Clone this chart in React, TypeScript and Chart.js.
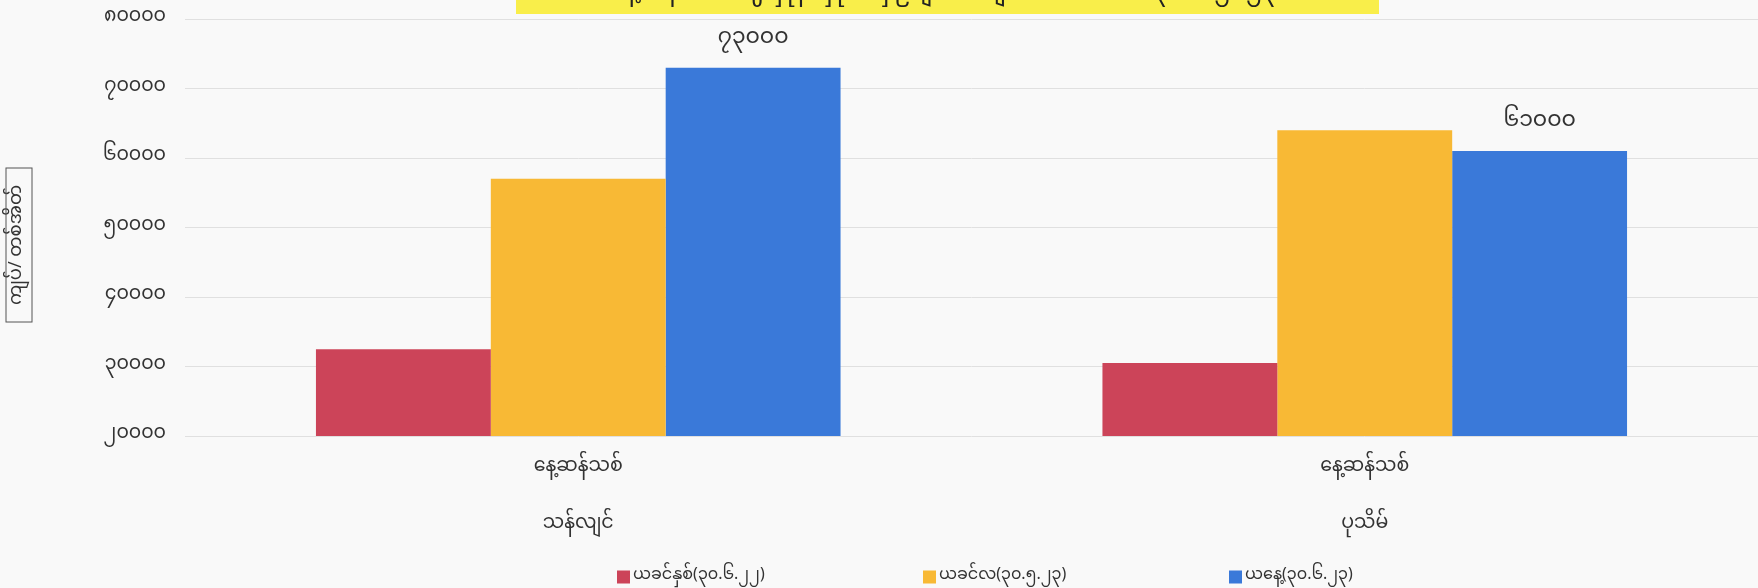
import React, { useEffect, useRef } from "react";
import { Chart, registerables } from "chart.js";

Chart.register(...registerables);

const categories = [
  ["နေ့ဆန်သစ်", "သန်လျင်"],
  ["နေ့ဆန်သစ်", "ပုသိမ်"],
];
const seriesNames = ["ယခင်နှစ်(၃၀.၆.၂၂)", "ယခင်လ(၃၀.၅.၂၃)", "ယနေ့(၃၀.၆.၂၃)"];
const lastYear = [32500, 30500];
const lastMonth = [57000, 64000];
const today = [73000, 61000];
const yMin = 20000;
const yMax = 80000;
const yStep = 10000;
const yAxisTitle = "ကျပ်/ တစ်အိတ်";
const chartTitle = "နေ့ဆန်သစ် ဈေးနှုန်း နှိုင်းယှဉ်ချက် (ကျပ်/ တစ်အိတ်) (၃၀.၆.၂၀၂၃)";

const colors = ["#CC4459", "#F8B935", "#3A79D9"];
const FONT = '"Noto Sans Myanmar", "Padauk", "Myanmar Text", "Noto Sans", sans-serif';
const myDigits = "၀၁၂၃၄၅၆၇၈၉";
const toMy = (v: number | string) =>
  String(v).replace(/[0-9]/g, (d) => myDigits[Number(d)]);

const decorPlugin = {
  id: "decor",
  beforeDraw(chart: any) {
    const { ctx, width, height } = chart;
    ctx.save();
    ctx.fillStyle = "#F9F9F9";
    ctx.fillRect(0, 0, width, height);
    ctx.restore();
  },
  afterDraw(chart: any) {
    const { ctx } = chart;
    ctx.save();
    // title band (cut off at top)
    ctx.fillStyle = "#F9EE4A";
    ctx.fillRect(516, 0, 863, 14);
    ctx.fillStyle = "#222";
    ctx.font = `24px ${FONT}`;
    ctx.textAlign = "center";
    ctx.textBaseline = "alphabetic";
    ctx.fillText(chartTitle, 947, -4);

    // y axis title with box
    ctx.translate(19, 245);
    ctx.rotate(-Math.PI / 2);
    ctx.font = `18px ${FONT}`;
    ctx.textAlign = "center";
    ctx.textBaseline = "middle";
    ctx.fillStyle = "#333";
    ctx.fillText(yAxisTitle, 0, 0);
    ctx.strokeStyle = "#555";
    ctx.lineWidth = 1;
    ctx.strokeRect(-77, -13, 154, 26);
    ctx.restore();

    // data labels for today's series
    const meta = chart.getDatasetMeta(2);
    ctx.save();
    ctx.font = `22px ${FONT}`;
    ctx.fillStyle = "#333";
    ctx.textAlign = "center";
    ctx.textBaseline = "middle";
    meta.data.forEach((bar: any, i: number) => {
      ctx.fillText(toMy(today[i]), bar.x, bar.y - 27);
    });
    ctx.restore();

    // legend
    ctx.save();
    ctx.font = `16px ${FONT}`;
    ctx.textBaseline = "middle";
    ctx.textAlign = "left";
    chart.data.datasets.forEach((ds: any, i: number) => {
      const x = 617 + i * 306;
      const y = 577;
      ctx.fillStyle = ds.backgroundColor;
      ctx.fillRect(x, y - 6.5, 13, 13);
      ctx.fillStyle = "#333";
      ctx.fillText(ds.label, x + 16, y);
    });
    ctx.restore();
  },
};

export default function App() {
  const ref = useRef<HTMLCanvasElement>(null);
  useEffect(() => {
    if (!ref.current) return;
    const chart = new Chart(ref.current, {
      type: "bar",
      data: {
        labels: categories,
        datasets: [lastYear, lastMonth, today].map((d, i) => ({
          label: seriesNames[i],
          data: d,
          backgroundColor: colors[i],
          borderWidth: 0,
          categoryPercentage: 0.667,
          barPercentage: 1,
        })),
      },
      options: {
        responsive: false,
        animation: false,
        devicePixelRatio: 1,
        layout: { padding: { top: 19, left: 0, right: 0, bottom: 0 } },
        plugins: { legend: { display: false }, tooltip: { enabled: false }, title: { display: false } },
        scales: {
          x: {
            grid: { display: false, drawTicks: false },
            border: { display: false },
            ticks: {
              font: { family: FONT, size: 19, lineHeight: 3 },
              color: "#333",
              padding: 4,
              maxRotation: 0,
              autoSkip: false,
            },
            afterFit: (s: any) => {
              s.height = 152;
              s.paddingLeft = 0;
              s.paddingRight = 0;
            },
          },
          y: {
            min: yMin,
            max: yMax,
            ticks: {
              stepSize: yStep,
              callback: (v: any) => toMy(v),
              font: { family: FONT, size: 19 },
              color: "#333",
              padding: 19,
            },
            grid: { color: "#E0E0E0", drawTicks: false, lineWidth: 1 },
            border: { display: false },
            afterFit: (s: any) => {
              s.width = 185;
              s.paddingTop = 0;
              s.paddingBottom = 0;
            },
          },
        },
      },
      plugins: [decorPlugin],
    });
    return () => chart.destroy();
  }, []);
  return (
    <div style={{ position: "fixed", left: 0, top: 0, width: 1758, height: 588 }}>
      <canvas ref={ref} width={1758} height={588} style={{ display: "block", width: 1758, height: 588 }} />
    </div>
  );
}
